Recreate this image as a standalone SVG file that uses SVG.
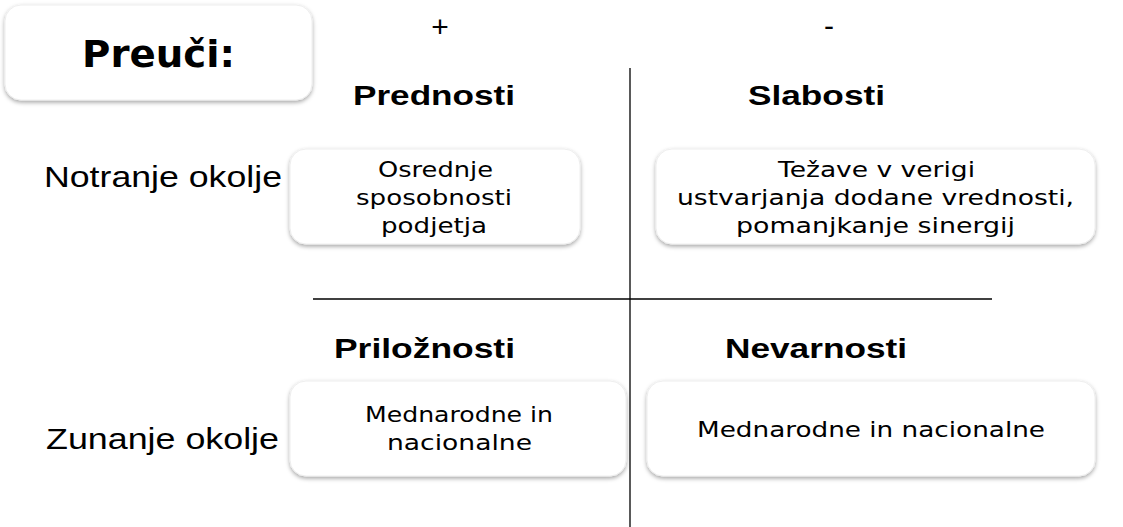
<svg xmlns="http://www.w3.org/2000/svg" width="1123" height="527" viewBox="0 0 1123 527">
<defs>
<filter id="sh" x="-10%" y="-10%" width="120%" height="130%">
<feDropShadow dx="0" dy="2" stdDeviation="2" flood-color="#000" flood-opacity="0.35"/>
</filter>
<style>
.box{fill:#fff;stroke:#eee;stroke-width:1;filter:url(#sh)}
.bt{font-family:"DejaVu Sans",sans-serif;font-size:22px;fill:#000}
.hd{font-family:"Liberation Sans",Arial,sans-serif;font-weight:bold;font-size:28px;fill:#000}
.sd{font-family:"Liberation Sans",Arial,sans-serif;font-size:30px;fill:#000}
.ln{stroke:#000;stroke-width:1.3}
</style>
</defs>
<rect width="1123" height="527" fill="#fff"/>
<g id="title">
<rect class="box" x="5" y="5" width="307" height="95" rx="16"/>
<text x="82" y="67" font-family="DejaVu Sans,sans-serif" font-weight="bold" font-size="38" textLength="153" lengthAdjust="spacingAndGlyphs">Preuči:</text>
</g>
<g id="axes">
<line class="ln" x1="630" y1="68" x2="630" y2="527"/>
<line class="ln" x1="313" y1="299" x2="992" y2="299"/>
</g>
<g id="signs">
<text class="sd" x="440" y="37" font-size="24" text-anchor="middle">+</text>
<text class="sd" x="829" y="36" font-size="24" text-anchor="middle">-</text>
</g>
<g id="headings">
<text class="hd" x="353" y="105" textLength="162" lengthAdjust="spacingAndGlyphs">Prednosti</text>
<text class="hd" x="748" y="105" textLength="137" lengthAdjust="spacingAndGlyphs">Slabosti</text>
<text class="hd" x="334" y="358" textLength="181" lengthAdjust="spacingAndGlyphs">Priložnosti</text>
<text class="hd" x="725" y="358" textLength="182" lengthAdjust="spacingAndGlyphs">Nevarnosti</text>
</g>
<g id="rows">
<text class="sd" x="44" y="187" textLength="238" lengthAdjust="spacingAndGlyphs">Notranje okolje</text>
<text class="sd" x="46" y="449" textLength="233" lengthAdjust="spacingAndGlyphs">Zunanje okolje</text>
</g>
<g id="strengths">
<rect class="box" x="290" y="149" width="290" height="95" rx="16"/>
<text class="bt" x="378" y="177" textLength="115" lengthAdjust="spacingAndGlyphs">Osrednje</text>
<text class="bt" x="356" y="205" textLength="156" lengthAdjust="spacingAndGlyphs">sposobnosti</text>
<text class="bt" x="381" y="233" textLength="106" lengthAdjust="spacingAndGlyphs">podjetja</text>
</g>
<g id="weaknesses">
<rect class="box" x="656" y="149" width="439" height="95" rx="16"/>
<text class="bt" x="778" y="177" textLength="197" lengthAdjust="spacingAndGlyphs">Težave v verigi</text>
<text class="bt" x="677" y="205" textLength="397" lengthAdjust="spacingAndGlyphs">ustvarjanja dodane vrednosti,</text>
<text class="bt" x="736" y="233" textLength="279" lengthAdjust="spacingAndGlyphs">pomanjkanje sinergij</text>
</g>
<g id="opportunities">
<rect class="box" x="290" y="381" width="336" height="95" rx="16"/>
<text class="bt" x="365" y="422" textLength="188" lengthAdjust="spacingAndGlyphs">Mednarodne in</text>
<text class="bt" x="387" y="450" textLength="145" lengthAdjust="spacingAndGlyphs">nacionalne</text>
</g>
<g id="threats">
<rect class="box" x="647" y="381" width="448" height="95" rx="16"/>
<text class="bt" x="697" y="437" textLength="348" lengthAdjust="spacingAndGlyphs">Mednarodne in nacionalne</text>
</g>
</svg>
